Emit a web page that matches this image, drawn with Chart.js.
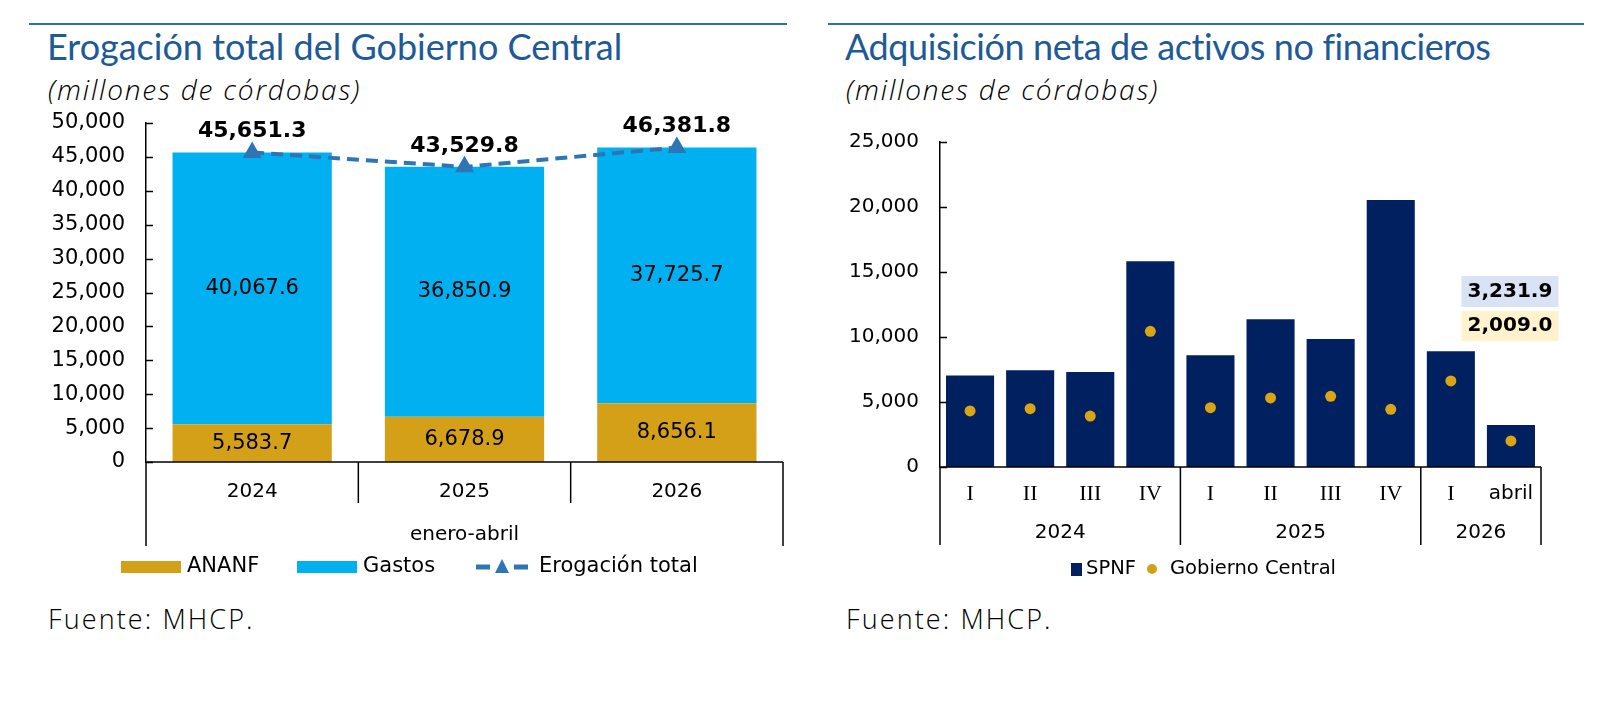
<!DOCTYPE html>
<html lang="es">
<head>
<meta charset="utf-8">
<title>Erogación total y adquisición neta de activos no financieros</title>
<script src="https://cdn.jsdelivr.net/npm/chart.js@4.4.1/dist/chart.umd.min.js"></script>
<style>
  html, body { margin: 0; padding: 0; background: #fff; }
  body { width: 1620px; height: 716px; position: relative; overflow: hidden; }
  .regla { position: absolute; top: 23px; height: 2px; background: #2f6fab; }
  .titulo { position: absolute; top: 28px; font-family: Lato, sans-serif; font-size: 36px; line-height: 1; color: #1d5a97; white-space: nowrap; }
  .sub { position: absolute; top: 75px; font-family: "Open Sans", sans-serif; font-weight: 300; font-style: italic; font-size: 28px; letter-spacing: 1.8px; line-height: 1; color: #000; white-space: nowrap; }
  .fuente { position: absolute; top: 605px; font-family: "Open Sans", sans-serif; font-weight: 300; font-size: 27px; letter-spacing: 2.1px; line-height: 1; color: #000; white-space: nowrap; }
  canvas { position: absolute; }
</style>
</head>
<body>
<div class="regla" style="left:29px;width:758px"></div>
<div class="regla" style="left:828px;width:756px"></div>
<div class="titulo" style="left:47px">Erogación total del Gobierno Central</div>
<div class="titulo" style="left:845px;letter-spacing:-0.4px">Adquisición neta de activos no financieros</div>
<div class="sub" style="left:48px">(millones de córdobas)</div>
<div class="sub" style="left:846px">(millones de córdobas)</div>
<div class="fuente" style="left:48px">Fuente: MHCP.</div>
<div class="fuente" style="left:846px">Fuente: MHCP.</div>
<canvas id="erogacion" width="800" height="520" style="left:0;top:89px"></canvas>
<canvas id="activos" width="820" height="520" style="left:800px;top:100px"></canvas>
<script>
// grafico izquierdo: erogacion total enero-abril
const anios = ['2024', '2025', '2026'];
const periodo = 'enero-abril';
const ananf = [5583.7, 6678.9, 8656.1];
const gastos = [40067.6, 36850.9, 37725.7];
const erogacion = [45651.3, 43529.8, 46381.8];
const ticksIzq = [0, 5000, 10000, 15000, 20000, 25000, 30000, 35000, 40000, 45000, 50000];

// grafico derecho: adquisicion neta de activos no financieros
const trimestres = ['I', 'II', 'III', 'IV', 'I', 'II', 'III', 'IV', 'I', 'abril'];
const grupos = [['2024', 0, 3], ['2025', 4, 7], ['2026', 8, 9]];
const spnf = [7030, 7440, 7310, 15820, 8590, 11360, 9850, 20540, 8900, 3231.9];
const gobCentral = [4310, 4490, 3920, 10440, 4560, 5310, 5440, 4440, 6620, 2009.0];
const ticksDer = [0, 5000, 10000, 15000, 20000, 25000];

const ORO = '#d4a017', CELESTE = '#00b0f0', AZUL = '#2e75b6', MARINO = '#002060';
const FUENTE = '"DejaVu Sans", sans-serif';

Chart.defaults.font.family = FUENTE;
Chart.defaults.color = '#000';
Chart.defaults.animation = false;

const fmt1 = v => v.toLocaleString('en-US', {minimumFractionDigits: 1, maximumFractionDigits: 1});
const fmt0 = v => v.toLocaleString('en-US');

function linea(ctx, x1, y1, x2, y2) {
    ctx.beginPath();
    ctx.moveTo(x1, y1);
    ctx.lineTo(x2, y2);
    ctx.stroke();
}

function texto(ctx, t, x, y, font, align) {
    ctx.font = font;
    ctx.textAlign = align || 'center';
    ctx.textBaseline = 'middle';
    ctx.fillText(t, x, y);
}

// marcas del eje y hacia adentro
function marcasY(ctx, a, y) {
    y.ticks.forEach(t => {
        const py = Math.round(y.getPixelForValue(t.value)) + 0.5;
        linea(ctx, a.left, py, a.left + 7, py);
    });
}

const adornosIzq = {
    id: 'adornosIzq',
    afterDraw(chart) {
        const {ctx, chartArea: a, scales: {x, y}} = chart;
        ctx.save();
        ctx.strokeStyle = '#000';
        ctx.lineWidth = 1.5;
        ctx.fillStyle = '#000';
        marcasY(ctx, a, y);
        linea(ctx, a.left, a.bottom, a.right, a.bottom);
        const w = (a.right - a.left) / anios.length;
        linea(ctx, a.left, a.bottom, a.left, a.bottom + 84);
        linea(ctx, a.right, a.bottom, a.right, a.bottom + 84);
        for (let i = 1; i < anios.length; i++) {
            linea(ctx, a.left + i * w, a.bottom, a.left + i * w, a.bottom + 41);
        }
        anios.forEach((c, i) => texto(ctx, c, x.getPixelForValue(i), a.bottom + 30, '20px ' + FUENTE));
        texto(ctx, periodo, (a.left + a.right) / 2, a.bottom + 73, '20px ' + FUENTE);

        // etiquetas dentro de las barras
        [0, 1].forEach(d => {
            chart.getDatasetMeta(d).data.forEach((bar, i) => {
                texto(ctx, fmt1(chart.data.datasets[d].data[i]), bar.x, (bar.y + bar.base) / 2, '21px ' + FUENTE);
            });
        });
        // total sobre los puntos
        chart.getDatasetMeta(2).data.forEach((p, i) => {
            texto(ctx, fmt1(erogacion[i]), p.x, p.y - 21, 'bold 22px ' + FUENTE);
        });

        // leyenda
        const ly = 478;
        ctx.fillStyle = ORO;
        ctx.fillRect(121, ly - 6, 60, 12);
        ctx.fillStyle = CELESTE;
        ctx.fillRect(297, ly - 6, 60, 12);
        ctx.strokeStyle = AZUL;
        ctx.lineWidth = 5;
        linea(ctx, 476, ly, 490, ly);
        linea(ctx, 514, ly, 528, ly);
        ctx.fillStyle = AZUL;
        ctx.beginPath();
        ctx.moveTo(502, ly - 8);
        ctx.lineTo(509, ly + 6);
        ctx.lineTo(495, ly + 6);
        ctx.closePath();
        ctx.fill();
        ctx.fillStyle = '#000';
        texto(ctx, 'ANANF', 187, ly, '21px ' + FUENTE, 'left');
        texto(ctx, 'Gastos', 363, ly, '21px ' + FUENTE, 'left');
        texto(ctx, 'Erogación total', 539, ly, '21px ' + FUENTE, 'left');
        ctx.restore();
    }
};

const adornosDer = {
    id: 'adornosDer',
    afterDraw(chart) {
        const {ctx, chartArea: a, scales: {x, y}} = chart;
        ctx.save();
        ctx.strokeStyle = '#000';
        ctx.lineWidth = 1.5;
        ctx.fillStyle = '#000';
        marcasY(ctx, a, y);
        linea(ctx, a.left, a.bottom, a.right, a.bottom);
        const w = (a.right - a.left) / trimestres.length;
        linea(ctx, a.left, a.bottom, a.left, a.bottom + 78);
        linea(ctx, a.right, a.bottom, a.right, a.bottom + 78);
        grupos.forEach(([nombre, i0, i1], g) => {
            if (g > 0) linea(ctx, a.left + i0 * w, a.bottom, a.left + i0 * w, a.bottom + 78);
            const cx = (x.getPixelForValue(i0) + x.getPixelForValue(i1)) / 2;
            texto(ctx, nombre, cx, a.bottom + 66, '20px ' + FUENTE);
        });
        trimestres.forEach((t, i) => {
            const f = t === 'abril' ? '20px ' + FUENTE : '22px "Liberation Serif", serif';
            texto(ctx, t, x.getPixelForValue(i), a.bottom + 27, f);
        });

        // cuadros con los valores de abril
        const ult = spnf.length - 1;
        const cx = chart.getDatasetMeta(1).data[ult].x - 1;
        ctx.fillStyle = '#dae3f3';
        ctx.fillRect(cx - 48.5, a.top + 134, 97, 31);
        ctx.fillStyle = '#fff2cc';
        ctx.fillRect(cx - 48.5, a.top + 169, 97, 30);
        ctx.fillStyle = '#000';
        texto(ctx, fmt1(spnf[ult]), cx, a.top + 150, 'bold 20px ' + FUENTE);
        texto(ctx, fmt1(gobCentral[ult]), cx, a.top + 184, 'bold 20px ' + FUENTE);

        // leyenda
        const ly = 469;
        ctx.fillStyle = MARINO;
        ctx.fillRect(271, ly - 6, 11, 13);
        ctx.fillStyle = ORO;
        ctx.beginPath();
        ctx.arc(352, ly, 5, 0, Math.PI * 2);
        ctx.fill();
        ctx.fillStyle = '#000';
        texto(ctx, 'SPNF', 286, ly, '19.5px ' + FUENTE, 'left');
        texto(ctx, 'Gobierno Central', 370, ly, '19.5px ' + FUENTE, 'left');
        ctx.restore();
    }
};

function ejeY(ancho, lista, tam) {
    return {
        min: lista[0],
        max: lista[lista.length - 1],
        stacked: true,
        afterBuildTicks: s => { s.ticks = lista.map(v => ({value: v})); },
        afterFit: s => { s.width = ancho; },
        grid: {display: false, drawTicks: false, tickLength: 0},
        border: {display: true, color: '#000', width: 1.5},
        ticks: {padding: 21, color: '#000', font: {size: tam}, callback: v => fmt0(v)}
    };
}

new Chart(document.getElementById('erogacion').getContext('2d'), {
    type: 'bar',
    data: {
        labels: anios,
        datasets: [{
            label: 'ANANF',
            data: ananf,
            backgroundColor: ORO,
            barPercentage: 0.75,
            categoryPercentage: 1,
            order: 2
        }, {
            label: 'Gastos',
            data: gastos,
            backgroundColor: CELESTE,
            barPercentage: 0.75,
            categoryPercentage: 1,
            order: 2
        }, {
            type: 'line',
            label: 'Erogación total',
            data: erogacion,
            borderColor: AZUL,
            borderWidth: 4,
            borderDash: [12, 7],
            pointStyle: 'triangle',
            pointRadius: 7,
            pointBackgroundColor: AZUL,
            pointBorderColor: AZUL,
            fill: false,
            order: 1
        }]
    },
    options: {
        responsive: false,
        layout: {padding: {top: 34, right: 17, bottom: 147, left: 0}},
        plugins: {legend: {display: false}, tooltip: {enabled: false}},
        scales: {
            x: {display: false, stacked: true},
            y: ejeY(146, ticksIzq, 21)
        }
    },
    plugins: [adornosIzq]
});

new Chart(document.getElementById('activos').getContext('2d'), {
    type: 'bar',
    data: {
        labels: trimestres,
        datasets: [{
            type: 'line',
            label: 'Gobierno Central',
            data: gobCentral,
            showLine: false,
            pointRadius: 5.5,
            pointBackgroundColor: '#d9a514',
            pointBorderWidth: 0,
            order: 1
        }, {
            label: 'SPNF',
            data: spnf,
            backgroundColor: MARINO,
            barPercentage: 0.8,
            categoryPercentage: 1,
            order: 2
        }]
    },
    options: {
        responsive: false,
        layout: {padding: {top: 42, right: 79, bottom: 153, left: 0}},
        plugins: {legend: {display: false}, tooltip: {enabled: false}},
        scales: {
            x: {display: false},
            y: Object.assign(ejeY(140, ticksDer, 20), {stacked: false})
        }
    },
    plugins: [adornosDer]
});
</script>
</body>
</html>
